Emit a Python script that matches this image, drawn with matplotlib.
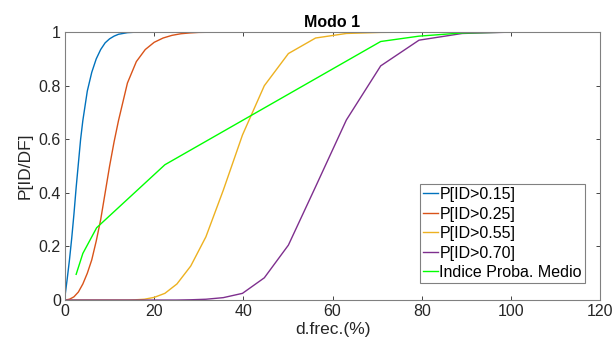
import matplotlib
matplotlib.use("Agg")
import matplotlib.pyplot as plt

plt.rcParams['font.family'] = ['Liberation Sans', 'DejaVu Sans']

# data
x_015 = [0, 0.5, 1, 1.5, 2, 2.5, 3, 3.5, 4, 5, 6, 7, 8, 9, 10, 11, 12, 14, 16, 20, 30, 40, 60, 80, 100]
y_015 = [0.015, 0.08, 0.15, 0.23, 0.32, 0.42, 0.51, 0.60, 0.67, 0.78, 0.85, 0.90, 0.935, 0.96, 0.975,
         0.985, 0.992, 0.998, 1, 1, 1, 1, 1, 1, 1]

x_025 = [0, 1, 2, 3, 4, 5, 6, 7, 8, 9, 10, 11, 12, 13, 14, 15, 16, 18, 20, 22, 24, 26, 28, 30, 35, 60, 100]
y_025 = [0, 0.003, 0.012, 0.03, 0.06, 0.10, 0.15, 0.22, 0.30, 0.40, 0.50, 0.59, 0.67, 0.74, 0.81, 0.85,
         0.89, 0.935, 0.962, 0.978, 0.988, 0.994, 0.997, 0.999, 1, 1, 1]

x_055 = [0, 14.1, 15.8, 17.8, 20.0, 22.4, 25.1, 28.2, 31.6, 35.5, 39.8, 44.7, 50.1, 56.2, 63.1, 70.8, 79.4, 89.1, 100]
y_055 = [0, 0, 0.001, 0.003, 0.01, 0.025, 0.06, 0.127, 0.236, 0.41, 0.616, 0.80, 0.92, 0.978, 0.995, 0.999, 1, 1, 1]

x_070 = [0, 25.1, 28.2, 31.6, 35.5, 39.8, 44.7, 50.1, 56.2, 63.1, 70.8, 79.4, 89.1, 100]
y_070 = [0, 0, 0.001, 0.003, 0.009, 0.025, 0.083, 0.205, 0.423, 0.672, 0.874, 0.97, 0.995, 1]

x_med = [2.5, 4.0, 7.1, 22.4, 70.8, 79.4, 89.1, 100]
y_med = [0.096, 0.174, 0.27, 0.505, 0.965, 0.985, 0.997, 1]

labels = ['P[ID>0.15]', 'P[ID>0.25]', 'P[ID>0.55]', 'P[ID>0.70]', 'Indice Proba. Medio']
xticks = [0, 20, 40, 60, 80, 100, 120]
yticks = [0, 0.2, 0.4, 0.6, 0.8, 1]
ytick_labels = ['0', '0.2', '0.4', '0.6', '0.8', '1']

fig = plt.figure(figsize=(6.15, 3.53), dpi=100)
ax = fig.add_axes([0.1057, 0.150, 0.870, 0.759])

ax.plot(x_015, y_015, color='#0072BD', lw=1.0, label=labels[0])
ax.plot(x_025, y_025, color='#D95319', lw=1.0, label=labels[1])
ax.plot(x_055, y_055, color='#EDB120', lw=1.0, label=labels[2])
ax.plot(x_070, y_070, color='#7E2F8E', lw=1.0, label=labels[3])
ax.plot(x_med, y_med, color='#00FF00', lw=1.0, label=labels[4])

ax.set_xlim(0, 120)
ax.set_ylim(0, 1)
ax.set_xticks(xticks)
ax.set_yticks(yticks)
ax.set_yticklabels(ytick_labels)
ax.tick_params(direction='in', length=3, width=0.6, colors='#262626', labelsize=11.5,
               top=True, right=True, pad=3)
for s in ax.spines.values():
    s.set_color('#808080')
    s.set_linewidth(0.8)
for lab in ax.get_xticklabels() + ax.get_yticklabels():
    lab.set_color('#262626')

ax.set_xlabel('d.frec.(%)', fontsize=12.5, color='#262626', labelpad=2)
ax.set_ylabel('P[ID/DF]', fontsize=12.5, color='#262626', labelpad=4)
ax.set_title('Modo 1', fontsize=11.5, fontweight='bold', pad=4)

leg = ax.legend(loc='lower right', bbox_to_anchor=(0.972, 0.063), fontsize=11.5, handlelength=0.9,
                handletextpad=0.1, borderpad=0.2, labelspacing=0.28, borderaxespad=0,
                fancybox=False, framealpha=1)
leg.get_frame().set_edgecolor('#808080')
leg.get_frame().set_linewidth(0.8)

fig.savefig('out.png', dpi=100)
